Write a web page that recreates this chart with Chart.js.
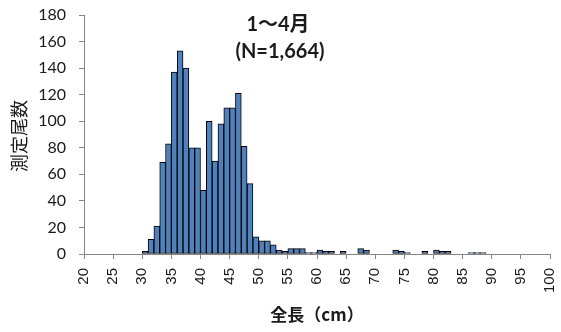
<!DOCTYPE html>
<html>
<head>
<meta charset="utf-8">
<script src="https://cdn.jsdelivr.net/npm/chart.js@4/dist/chart.umd.min.js"></script>
<style>
  html, body { margin: 0; padding: 0; background: #ffffff; }
  #wrap { width: 561px; height: 332px; }
</style>
</head>
<body>
<div id="wrap"><canvas id="c" width="561" height="332"></canvas></div>
<script>
// Length classes (lower edge, cm) and fish counted in each 1 cm class
const lengths = [
  20, 21, 22, 23, 24, 25, 26, 27, 28, 29,
  30, 31, 32, 33, 34, 35, 36, 37, 38, 39,
  40, 41, 42, 43, 44, 45, 46, 47, 48, 49,
  50, 51, 52, 53, 54, 55, 56, 57, 58, 59,
  60, 61, 62, 63, 64, 65, 66, 67, 68, 69,
  70, 71, 72, 73, 74, 75, 76, 77, 78, 79,
  80, 81, 82, 83, 84, 85, 86, 87, 88, 89,
  90, 91, 92, 93, 94, 95, 96, 97, 98, 99
];
const counts = [
  0, 0, 0, 0, 0, 0, 0, 0, 0, 0,
  2, 11, 21, 69, 83, 137, 153, 140, 80, 80,
  48, 100, 70, 98, 110, 110, 121, 81, 53, 13,
  10, 10, 7, 3, 2, 4, 4, 4, 1, 1,
  3, 2, 2, 0, 2, 0, 0, 4, 3, 0,
  0, 0, 0, 3, 2, 1, 0, 0, 2, 0,
  3, 2, 2, 0, 0, 0, 1, 1, 1, 0,
  0, 0, 0, 0, 0, 0, 0, 0, 0, 0
];

// Axis tick labels
const xTicks = [20, 25, 30, 35, 40, 45, 50, 55, 60, 65, 70, 75, 80, 85, 90, 95, 100];
const yTicks = [0, 20, 40, 60, 80, 100, 120, 140, 160, 180];

// Text
const titleLines = ['1～4月', '(N=1,664)'];
const xTitle = '全長（cm）';
const yTitle = '測定尾数';

const AXIS_GRAY = '#868686';
const LABEL = '#1a1a1a';
const LATIN = "Lato, 'Noto Sans CJK JP', sans-serif";
const CJK = "'Noto Sans CJK JP', sans-serif";

// each class is drawn centred in its 1 cm interval
const points = lengths.map((l, i) => ({ x: l + 0.5, y: counts[i] }));

const textPlugin = {
  id: 'chartText',
  afterDraw(chart) {
    const ctx = chart.ctx;
    ctx.save();
    ctx.fillStyle = LABEL;
    ctx.textAlign = 'center';
    ctx.textBaseline = 'middle';

    ctx.font = "bold 20px " + LATIN;
    ctx.fillText(titleLines[0], 278, 25);
    ctx.fillText(titleLines[1], 280, 52);

    ctx.font = "bold 17px " + CJK;
    ctx.fillText(xTitle, 317, 315);

    ctx.translate(19, 136);
    ctx.rotate(-Math.PI / 2);
    ctx.font = "18px " + CJK;
    ctx.fillText(yTitle, 0, 0);
    ctx.restore();
  }
};

new Chart(document.getElementById('c'), {
  type: 'bar',
  data: {
    datasets: [{
      data: points,
      backgroundColor: '#4F81BD',
      borderColor: '#000000',
      borderWidth: 1,
      borderSkipped: false,
      barPercentage: 1,
      categoryPercentage: 1
    }]
  },
  options: {
    responsive: false,
    devicePixelRatio: 1,
    animation: false,
    layout: { padding: { left: 0, right: 11, top: 15, bottom: 0 } },
    plugins: {
      legend: { display: false },
      tooltip: { enabled: false }
    },
    scales: {
      x: {
        type: 'linear',
        offset: false,
        min: 20,
        max: 100,
        afterBuildTicks(scale) { scale.ticks = xTicks.map(v => ({ value: v })); },
        afterFit(scale) {
          scale.height = 78;
          scale.paddingLeft = 0;
          scale.paddingRight = 0;
        },
        grid: { display: true, offset: false, drawOnChartArea: false, drawTicks: true, tickLength: 5, color: AXIS_GRAY },
        border: { display: true, color: AXIS_GRAY, width: 1 },
        ticks: {
          autoSkip: false,
          maxRotation: 90,
          minRotation: 90,
          padding: 9,
          color: LABEL,
          font: { family: "'Liberation Sans', Arial, sans-serif", size: 15 }
        }
      },
      y: {
        min: 0,
        max: 180,
        afterBuildTicks(scale) { scale.ticks = yTicks.map(v => ({ value: v })); },
        afterFit(scale) {
          scale.width = 84;
          scale.paddingTop = 0;
          scale.paddingBottom = 0;
        },
        grid: { display: true, drawOnChartArea: false, drawTicks: true, tickLength: 5, color: AXIS_GRAY },
        border: { display: true, color: AXIS_GRAY, width: 1 },
        ticks: {
          padding: 13,
          color: LABEL,
          font: { family: LATIN, size: 16 }
        }
      }
    }
  },
  plugins: [textPlugin]
});
</script>
</body>
</html>
